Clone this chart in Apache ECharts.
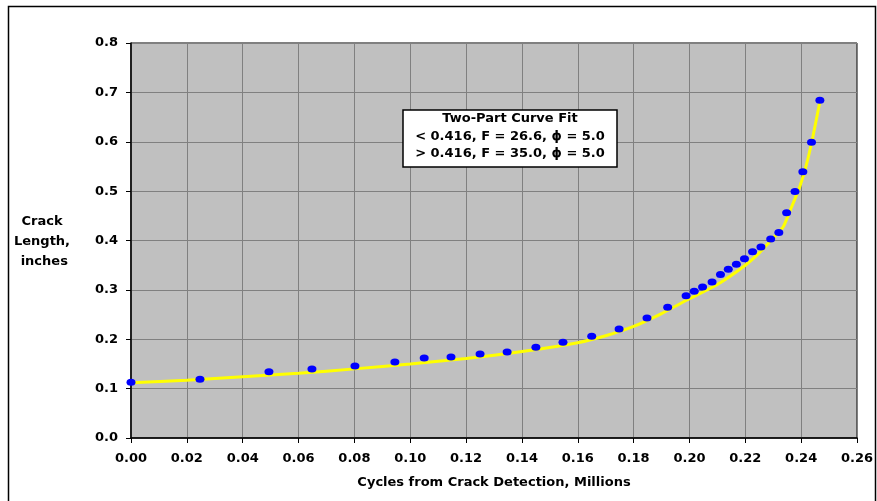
<!DOCTYPE html>
<html lang="en">
<head>
    <meta charset="UTF-8">
    <title>Crack Length vs Cycles</title>
    <script src="https://cdn.jsdelivr.net/npm/echarts@6/dist/echarts.min.js"></script>
    <style>
        html, body { margin: 0; padding: 0; background: #fff; }
        #main { width: 877px; height: 501px; }
    </style>
</head>
<body>
    <div id="main"></div>
    <script type="text/javascript">
        // measured points (cycles in millions, crack length in inches)
        var cycles = [0, 0.0247, 0.0494, 0.0648, 0.0802, 0.0945, 0.105, 0.1146, 0.125, 0.1347,
            0.145, 0.1547, 0.165, 0.1748, 0.1848, 0.1922, 0.1988, 0.2017, 0.2047, 0.2081,
            0.2111, 0.2139, 0.2168, 0.2197, 0.2226, 0.2256, 0.2291, 0.2320, 0.2348, 0.2378,
            0.2406, 0.2437, 0.2467];
        var crackLen = [0.113, 0.119, 0.134, 0.140, 0.146, 0.154, 0.162, 0.164, 0.170, 0.174,
            0.184, 0.194, 0.206, 0.221, 0.243, 0.265, 0.288, 0.297, 0.306, 0.316,
            0.331, 0.342, 0.352, 0.363, 0.377, 0.387, 0.403, 0.416, 0.456, 0.499,
            0.539, 0.599, 0.684];

        // two-part curve fit
        var fitCycles = [0, 0.02, 0.04, 0.06, 0.08, 0.10, 0.12, 0.14, 0.16, 0.17, 0.18, 0.19,
            0.20, 0.21, 0.22, 0.225, 0.23, 0.2336, 0.236, 0.2395, 0.242, 0.2442, 0.2467];
        var fitLen = [0.112, 0.117, 0.124, 0.131, 0.140, 0.150, 0.161, 0.175, 0.193, 0.207, 0.226, 0.252,
            0.282, 0.311, 0.350, 0.375, 0.405, 0.428, 0.460, 0.509, 0.556, 0.610, 0.681];

        var boxLines = ['Two-Part Curve Fit', '< 0.416, F = 26.6, \u03d5 = 5.0', '> 0.416, F = 35.0, \u03d5 = 5.0'];

        var pts = [], fit = [];
        for (var i = 0; i < cycles.length; i++) pts.push([cycles[i], crackLen[i]]);
        for (var j = 0; j < fitCycles.length; j++) fit.push([fitCycles[j], fitLen[j]]);

        var font = 'DejaVu Sans';
        var myChart = echarts.init(document.getElementById('main'));
        var option = {
            animation: false,
            backgroundColor: '#fff',
            grid: {
                left: 131, top: 43, right: 20, bottom: 63,
                show: true,
                backgroundColor: '#C0C0C0',
                borderColor: '#000',
                borderWidth: 1
            },
            xAxis: {
                type: 'value',
                min: 0, max: 0.26, interval: 0.02,
                name: 'Cycles from Crack Detection, Millions',
                nameLocation: 'middle',
                nameGap: 38,
                nameTextStyle: { fontFamily: font, fontWeight: 'bold', fontSize: 13, color: '#000' },
                axisLine: { lineStyle: { color: '#000', width: 1.5 } },
                axisTick: { show: true, inside: false, length: 5, lineStyle: { color: '#000' } },
                axisLabel: {
                    margin: 14, color: '#000', fontFamily: font, fontWeight: 'bold', fontSize: 13,
                    formatter: function (v) { return v.toFixed(2); }
                },
                splitLine: { lineStyle: { color: '#808080', width: 1 } }
            },
            yAxis: {
                type: 'value',
                min: 0, max: 0.8, interval: 0.1,
                axisLine: { show: true, lineStyle: { color: '#000', width: 1.5 } },
                axisTick: { show: true, inside: false, length: 5, lineStyle: { color: '#000' } },
                axisLabel: {
                    margin: 13, color: '#000', fontFamily: font, fontWeight: 'bold', fontSize: 13,
                    formatter: function (v) { return v.toFixed(1); }
                },
                splitLine: { lineStyle: { color: '#808080', width: 1 } }
            },
            graphic: [
                {
                    type: 'rect', left: 6, top: 4, z: -10, silent: true,
                    shape: { width: 867, height: 510 },
                    style: { fill: 'none', stroke: '#000', lineWidth: 1.5 }
                },
                {
                    type: 'text', x: 42, y: 212, z: 10,
                    style: {
                        text: 'Crack\nLength,\n inches', fill: '#000', align: 'center',
                        font: 'bold 13px "DejaVu Sans"', lineHeight: 20
                    }
                },
                {
                    type: 'rect', x: 403, y: 110, z: 100,
                    shape: { x: 0, y: 0, width: 214, height: 57 },
                    style: { fill: '#fff', stroke: '#000', lineWidth: 1.5 }
                },
                {
                    type: 'text', x: 510, y: 110, z: 101,
                    style: {
                        text: boxLines.join('\n'), fill: '#000', align: 'center',
                        font: 'bold 13px "DejaVu Sans"', lineHeight: 17.5
                    }
                }
            ],
            series: [
                {
                    name: 'Fit',
                    type: 'line',
                    data: fit,
                    showSymbol: false,
                    smooth: 0.2,
                    lineStyle: { color: '#FFFF00', width: 3 },
                    z: 2
                },
                {
                    name: 'Data',
                    type: 'scatter',
                    data: pts,
                    symbol: 'circle',
                    symbolSize: [9, 7],
                    itemStyle: { color: '#0000FF', opacity: 1 },
                    z: 3
                }
            ]
        };
        myChart.setOption(option);
    </script>
</body>
</html>
